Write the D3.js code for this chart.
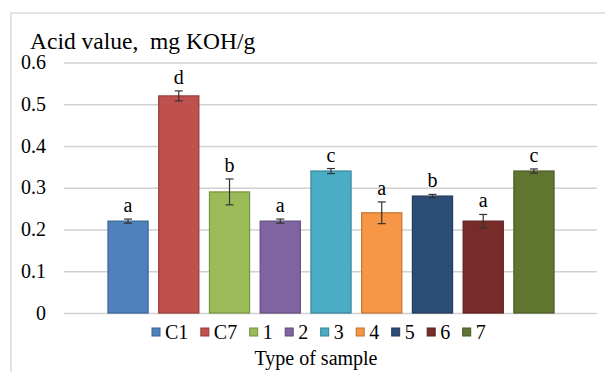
<!DOCTYPE html>
<html>
<head>
<meta charset="utf-8">
<script src="https://cdn.jsdelivr.net/npm/d3@7"></script>
<style>
  body { margin: 0; background: #fff; }
  svg { display: block; }
</style>
</head>
<body>
<script>
// chart data
const series = ["C1", "C7", "1", "2", "3", "4", "5", "6", "7"];
const values = [0.22, 0.52, 0.29, 0.22, 0.34, 0.24, 0.28, 0.22, 0.34];
const errors = [0.005, 0.012, 0.031, 0.005, 0.006, 0.026, 0.004, 0.016, 0.005];
const letters = ["a", "d", "b", "a", "c", "a", "b", "a", "c"];
const yTicks = [0, 0.1, 0.2, 0.3, 0.4, 0.5, 0.6];
const palette = ["#4F81BD", "#C0504D", "#9BBB59", "#8064A2", "#4BACC6",
                 "#F79646", "#2C4D75", "#772C2A", "#5F7530"];

let width = 605,
    height = 372;

let font = "'Liberation Serif'";

let svg = d3.select("body")
    .append("svg")
    .attr("width", width)
    .attr("height", height);

// outer chart border
svg.append("rect")
    .attr("x", 11).attr("y", 13)
    .attr("width", 600).attr("height", 370)
    .attr("fill", "none")
    .attr("stroke", "#d9d9d9")
    .attr("stroke-width", 1.5);

let plot = {left: 64, right: 597, top: 62.5, bottom: 313};

let y = d3.scaleLinear()
    .domain([0, 0.6])
    .range([plot.bottom, plot.top]);

let x = d3.scaleBand()
    .domain(series)
    .range([108, 554])
    .paddingInner(0.21)
    .paddingOuter(0);

let color = d3.scaleOrdinal().domain(series).range(palette);

// gridlines + tick labels
let yAxis = d3.axisLeft(y)
    .tickValues(yTicks)
    .tickSize(-(plot.right - plot.left))
    .tickPadding(18)
    .tickFormat(function(d) { return d === 0 ? "0" : d3.format(".1f")(d); });

let gy = svg.append("g")
    .attr("transform", "translate(" + plot.left + ",0)")
    .call(yAxis)
    .attr("font-family", null)
    .attr("font-size", null);

gy.select(".domain").remove();
gy.selectAll(".tick line")
    .attr("stroke", "#d0d0d0")
    .attr("stroke-width", 1.5);
gy.selectAll(".tick text")
    .style("font-family", font)
    .style("font-size", "20px")
    .attr("fill", "#000")
    .attr("dy", "0.3em");

// bars
svg.selectAll(".bar")
    .data(series)
    .enter().append("rect")
    .attr("class", "bar")
    .attr("x", function(d) { return x(d); })
    .attr("y", function(d, i) { return y(values[i]); })
    .attr("width", x.bandwidth())
    .attr("height", function(d, i) { return y(0) - y(values[i]); })
    .attr("fill", function(d) { return color(d); })
    .attr("stroke", function(d) { return d3.color(color(d)).darker(0.6); })
    .attr("stroke-width", 1.3);

// error bars
let eb = svg.selectAll(".err")
    .data(series)
    .enter().append("g")
    .attr("class", "err")
    .attr("stroke", "#333")
    .attr("stroke-width", 1.2);

let cap = 4;
eb.append("line")
    .attr("x1", function(d) { return x(d) + x.bandwidth() / 2; })
    .attr("x2", function(d) { return x(d) + x.bandwidth() / 2; })
    .attr("y1", function(d, i) { return y(values[i] - errors[i]); })
    .attr("y2", function(d, i) { return y(values[i] + errors[i]); });
eb.append("line")
    .attr("x1", function(d) { return x(d) + x.bandwidth() / 2 - cap; })
    .attr("x2", function(d) { return x(d) + x.bandwidth() / 2 + cap; })
    .attr("y1", function(d, i) { return y(values[i] + errors[i]); })
    .attr("y2", function(d, i) { return y(values[i] + errors[i]); });
eb.append("line")
    .attr("x1", function(d) { return x(d) + x.bandwidth() / 2 - cap; })
    .attr("x2", function(d) { return x(d) + x.bandwidth() / 2 + cap; })
    .attr("y1", function(d, i) { return y(values[i] - errors[i]); })
    .attr("y2", function(d, i) { return y(values[i] - errors[i]); });

// significance letters
svg.selectAll(".letter")
    .data(series)
    .enter().append("text")
    .attr("class", "letter")
    .attr("x", function(d) { return x(d) + x.bandwidth() / 2; })
    .attr("y", function(d, i) { return y(values[i] + errors[i]) - 7; })
    .attr("text-anchor", "middle")
    .style("font-family", font)
    .style("font-size", "20px")
    .text(function(d, i) { return letters[i]; });

// title
svg.append("text")
    .attr("x", 30)
    .attr("y", 49)
    .style("font-family", font)
    .style("font-size", "23.5px")
    .style("white-space", "pre")
    .text("Acid value,  mg KOH/g");

// legend
let legend = svg.append("g").attr("transform", "translate(152,339)");
let lx = 0;
series.forEach(function(s) {
    let item = legend.append("g").attr("transform", "translate(" + lx + ",0)");
    item.append("rect")
        .attr("x", 0).attr("y", -11)
        .attr("width", 8).attr("height", 8)
        .attr("fill", color(s))
        .attr("stroke", d3.color(color(s)).darker(0.8))
        .attr("stroke-width", 1);
    let t = item.append("text")
        .attr("x", 13)
        .attr("y", 0)
        .style("font-family", font)
        .style("font-size", "20px")
        .text(s);
    lx += 13 + t.node().getComputedTextLength() + 12.5;
});

// axis title
svg.append("text")
    .attr("x", 316)
    .attr("y", 365)
    .attr("text-anchor", "middle")
    .style("font-family", font)
    .style("font-size", "20px")
    .text("Type of sample");
</script>
</body>
</html>
